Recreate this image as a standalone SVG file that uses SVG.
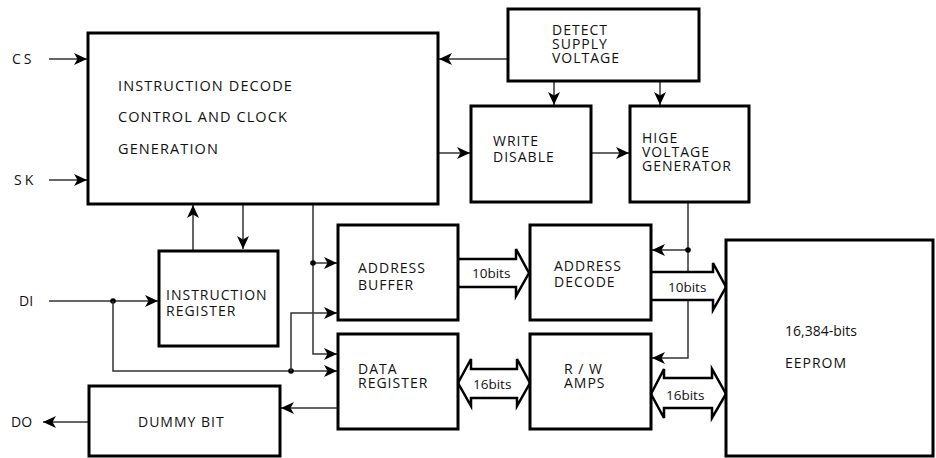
<svg xmlns="http://www.w3.org/2000/svg" width="936" height="458" viewBox="0 0 936 458">
<defs>
<marker id="ah" markerUnits="userSpaceOnUse" markerWidth="14" markerHeight="12" refX="13" refY="6" orient="auto">
<path d="M0,0 L13,6 L0,12 L3.5,6 Z" fill="#000"/>
</marker>
<style>
.box{fill:#fff;stroke:#000;stroke-width:3}
.ln{fill:none;stroke:#333;stroke-width:1.5}
.ar{fill:none;stroke:#333;stroke-width:1.5;marker-end:url(#ah)}
.bus{fill:#fff;stroke:#000;stroke-width:2.5;stroke-linejoin:miter}
.t{font-family:"Open Sans","DejaVu Sans",sans-serif;font-size:14.5px;letter-spacing:1.1px;fill:#111}
.s{font-size:14px;letter-spacing:1px}
.lb{font-family:"Open Sans","DejaVu Sans",sans-serif;font-size:14px;fill:#111}
.bt{font-family:"Open Sans","DejaVu Sans",sans-serif;font-size:13.5px;fill:#111}
.dot{fill:#000}
</style>
</defs>
<rect width="936" height="458" fill="#fff"/>

<g id="connectors">
<line class="ar" x1="49" y1="59" x2="87" y2="59"/>
<line class="ar" x1="49" y1="180" x2="87" y2="180"/>
<line class="ar" x1="507" y1="59" x2="439" y2="59"/>
<line class="ar" x1="438" y1="153" x2="470" y2="153"/>
<line class="ar" x1="554" y1="81" x2="554" y2="105"/>
<line class="ar" x1="660" y1="81" x2="660" y2="105"/>
<line class="ar" x1="591" y1="153" x2="629" y2="153"/>
<polyline class="ar" points="688,202 688,358 652,358"/>
<line class="ar" x1="688" y1="250" x2="652" y2="250"/>
<circle class="dot" cx="688" cy="250" r="2.8"/>
<line class="ar" x1="193" y1="250" x2="193" y2="205"/>
<line class="ar" x1="243" y1="204" x2="243" y2="249"/>
<polyline class="ar" points="313,204 313,354 337,354"/>
<line class="ar" x1="313" y1="263" x2="337" y2="263"/>
<circle class="dot" cx="313" cy="263" r="2.8"/>
<line class="ar" x1="49" y1="301" x2="158" y2="301"/>
<circle class="dot" cx="113" cy="301" r="2.8"/>
<polyline class="ar" points="113,301 113,371 337,371"/>
<circle class="dot" cx="291" cy="371" r="2.8"/>
<polyline class="ar" points="291,371 291,313 337,313"/>
<line class="ar" x1="338" y1="408" x2="281" y2="408"/>
<line class="ar" x1="89" y1="422" x2="43" y2="422"/>
<path class="bus" d="M458,259 L516,259 L516,249 L529,273 L516,296 L516,287 L458,287"/>
<path class="bus" d="M651,272 L713,272 L713,263 L726,287 L713,310 L713,300 L651,300"/>
<path class="bus" d="M458,383 L471,359 L471,369 L517,369 L517,359 L530,383 L517,406 L517,398 L471,398 L471,406 Z"/>
<path class="bus" d="M651,394 L664,369 L664,378 L712,378 L712,369 L726,394 L712,418 L712,408 L664,408 L664,418 Z"/>
<text class="bt" x="472" y="278">10bits</text>
<text class="bt" x="668" y="292">10bits</text>
<text class="bt" x="473" y="389">16bits</text>
<text class="bt" x="666" y="400">16bits</text>
</g>

<g id="labels">
<text class="lb" x="12" y="64" letter-spacing="3">CS</text>
<text class="lb" x="14" y="185" letter-spacing="3">SK</text>
<text class="lb" x="19" y="306">DI</text>
<text class="lb" x="11" y="427">DO</text>
</g>

<g id="main">
<rect class="box" x="88" y="33" width="350" height="171"/>
<text class="t"><tspan x="118" y="91">INSTRUCTION DECODE</tspan><tspan x="118" y="122">CONTROL AND CLOCK</tspan><tspan x="118" y="154">GENERATION</tspan></text>
</g>

<g id="detect">
<rect class="box" x="508" y="9" width="191" height="72"/>
<text class="t s"><tspan x="552" y="35">DETECT</tspan><tspan x="552" y="49">SUPPLY</tspan><tspan x="552" y="63">VOLTAGE</tspan></text>
</g>

<g id="write-disable">
<rect class="box" x="471" y="106" width="120" height="96"/>
<text class="t s"><tspan x="493" y="146">WRITE</tspan><tspan x="493" y="162">DISABLE</tspan></text>
</g>

<g id="hv-gen">
<rect class="box" x="630" y="106" width="119" height="96"/>
<text class="t s"><tspan x="642" y="143">HIGE</tspan><tspan x="642" y="157">VOLTAGE</tspan><tspan x="642" y="171">GENERATOR</tspan></text>
</g>

<g id="instr-reg">
<rect class="box" x="159" y="251" width="119" height="95"/>
<text class="t s"><tspan x="166" y="300">INSTRUCTION</tspan><tspan x="166" y="316">REGISTER</tspan></text>
</g>

<g id="addr-buf">
<rect class="box" x="338" y="225" width="120" height="95"/>
<text class="t s"><tspan x="358" y="273">ADDRESS</tspan><tspan x="358" y="290">BUFFER</tspan></text>
</g>

<g id="data-reg">
<rect class="box" x="338" y="334" width="120" height="95"/>
<text class="t s"><tspan x="358" y="374">DATA</tspan><tspan x="358" y="388">REGISTER</tspan></text>
</g>

<g id="addr-dec">
<rect class="box" x="530" y="225" width="121" height="95"/>
<text class="t s"><tspan x="554" y="271">ADDRESS</tspan><tspan x="554" y="287">DECODE</tspan></text>
</g>

<g id="rw-amps">
<rect class="box" x="530" y="334" width="121" height="95"/>
<text class="t s"><tspan x="564" y="374">R / W</tspan><tspan x="564" y="388">AMPS</tspan></text>
</g>

<g id="dummy">
<rect class="box" x="89" y="386" width="191" height="70"/>
<text class="t s" x="138" y="427">DUMMY BIT</text>
</g>

<g id="eeprom">
<rect class="box" x="726" y="240" width="207" height="216"/>
<text class="lb" x="785" y="336">16,384-bits</text>
<text class="t s" x="785" y="368" letter-spacing="2.5">EEPROM</text>
</g>
</svg>
